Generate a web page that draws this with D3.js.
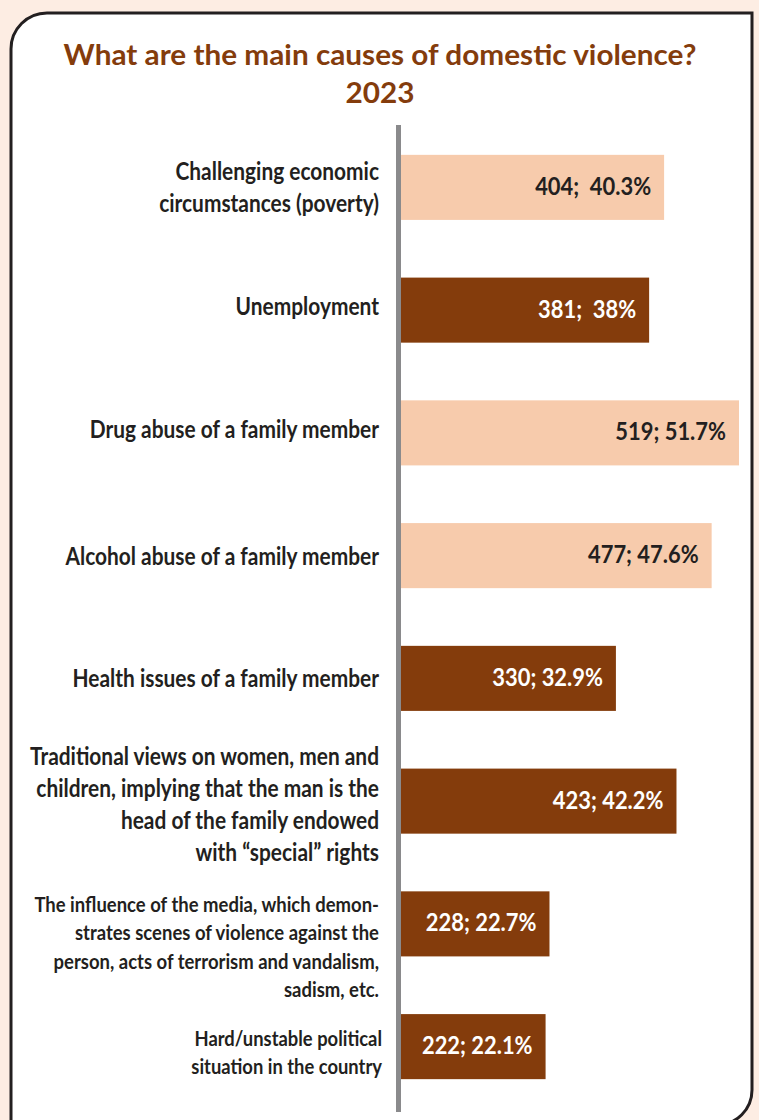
<!DOCTYPE html>
<html><head><meta charset="utf-8">
<script src="https://cdn.jsdelivr.net/npm/d3@7"></script>
<style>
html,body{margin:0;padding:0;background:#fdede3;}
svg{display:block}
text{white-space:pre;}
</style>
</head><body><svg id="c" width="759" height="1120"></svg>
<script>
// ---------- data ----------
const titleLines = ["What are the main causes of domestic violence?", "2023"];
const categories = [
  ["Challenging economic", "circumstances (poverty)"],
  ["Unemployment"],
  ["Drug abuse of a family member"],
  ["Alcohol abuse of a family member"],
  ["Health issues of a family member"],
  ["Traditional views on women, men and", "children, implying that the man is the", "head of the family endowed", "with “special” rights"],
  ["The influence of the media, which demon-", "strates scenes of violence against the", "person, acts of terrorism and vandalism,", "sadism, etc."],
  ["Hard/unstable political", "situation in the country"]
];
const counts   = [404, 381, 519, 477, 330, 423, 228, 222];
const percents = [40.3, 38, 51.7, 47.6, 32.9, 42.2, 22.7, 22.1];
const separators = [";  ", ";  ", "; ", "; ", "; ", "; ", "; ", "; "];
const highlighted = [true, false, true, true, false, false, false, false];

// ---------- layout / style ----------
const W = 759, H = 1120;
const FONT = "Lato, 'Open Sans', 'DejaVu Sans', sans-serif";
const C_DARK = "#843c0c", C_LIGHT = "#f7cbac", C_TEXT = "#231f20";
const labelShift = [0, -4, -3, 1, 0, 3, 23, 6];
const linePitch  = [32, 32, 32, 32, 32, 32, 28.5, 28];
const labelScale = [1, 1, 1, 1, 1, 1, 0.885, 0.88];
const labelRight = [379, 379, 379, 379, 379, 379, 379, 382];

const svg = d3.select("#c");

// frame
const L = 11, T = 13, R = 752, B = 1125, rTL = 36, rBR = 35;
svg.append("path")
  .attr("d", `M${L},${H + 10} L${L},${T + rTL} A${rTL},${rTL} 0 0 1 ${L + rTL},${T} L${R},${T} L${R},${B - rBR} A${rBR},${rBR} 0 0 1 ${R - rBR},${B} L${L},${B + 20}`)
  .attr("fill", "#ffffff").attr("stroke", "#231f20").attr("stroke-width", 3);

// scales
const x = d3.scaleLinear().domain([0, 519]).range([401, 739]);
const y = d3.scaleBand().domain(d3.range(counts.length)).range([126, 1108]).paddingInner(0.47).paddingOuter(0.235);

// horizontal fit helper
function measure(str, size) {
  const t = svg.append("text").attr("font-family", FONT).attr("font-weight", "bold")
    .attr("font-size", size).text(str);
  const w = t.node().getComputedTextLength();
  t.remove();
  return w;
}
const TITLE_SIZE = 28, LABEL_SIZE = 24, VALUE_SIZE = 24.5;
const sxTitle = 633 / measure(titleLines[0], TITLE_SIZE);
const sxLabel = 349 / measure(categories[5][0], LABEL_SIZE);
const sxValue = 110.7 / measure("519; 51.7%", VALUE_SIZE);

// title
svg.append("g").selectAll("text").data(titleLines).join("text")
  .attr("transform", (d, i) => `translate(380,${i === 0 ? 65 : 103}) scale(${sxTitle},1)`)
  .attr("text-anchor", "middle")
  .attr("font-family", FONT).attr("font-weight", "bold").attr("font-size", TITLE_SIZE)
  .attr("fill", C_DARK).text(d => d);

// bars
svg.append("g").selectAll("rect").data(counts).join("rect")
  .attr("x", x(0)).attr("y", (d, i) => y(i))
  .attr("width", d => x(d) - x(0)).attr("height", y.bandwidth())
  .attr("fill", (d, i) => highlighted[i] ? C_LIGHT : C_DARK);

// value labels
svg.append("g").selectAll("text").data(counts).join("text")
  .attr("transform", (d, i) => `translate(${x(d) - 13},${y(i) + y.bandwidth() / 2 + 7.5}) scale(${sxValue},1)`)
  .attr("text-anchor", "end")
  .attr("font-family", FONT).attr("font-weight", "bold").attr("font-size", VALUE_SIZE)
  .attr("fill", (d, i) => highlighted[i] ? C_TEXT : "#ffffff")
  .text((d, i) => `${d}${separators[i]}${percents[i]}%`);

// category labels
const lg = svg.append("g");
categories.forEach((lines, i) => {
  const size = LABEL_SIZE * labelScale[i];
  const capH = size * 0.7165;
  const c = y(i) + y.bandwidth() / 2 + labelShift[i];
  const p = linePitch[i];
  lines.forEach((ln, j) => {
    const by = c - (lines.length - 1) / 2 * p + j * p + capH / 2;
    lg.append("text")
      .attr("transform", `translate(${labelRight[i]},${by}) scale(${sxLabel},1)`)
      .attr("text-anchor", "end")
      .attr("font-family", FONT).attr("font-weight", "bold").attr("font-size", size)
      .attr("fill", C_TEXT).text(ln);
  });
});

// vertical axis line
svg.append("line").attr("x1", 398.5).attr("x2", 398.5).attr("y1", 125).attr("y2", 1112)
  .attr("stroke", "#8a8a8c").attr("stroke-width", 5);
</script>
</body></html>
